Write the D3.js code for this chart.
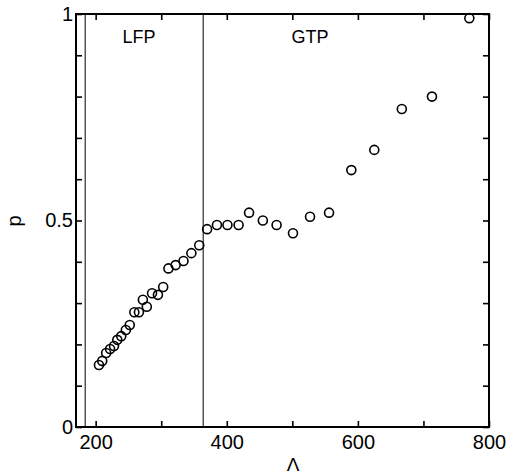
<!DOCTYPE html>
<html>
<head>
<meta charset="utf-8">
<script src="https://cdn.jsdelivr.net/npm/d3@7"></script>
<style>
  body { margin: 0; background: #fff; }
  svg { display: block; font-family: "Liberation Sans", Arial, sans-serif; }
</style>
</head>
<body>
<svg id="chart" width="508" height="471"></svg>
<script>
// lambda values and the fraction p
var lambda = [205, 210, 216, 222, 228, 233, 239, 246, 252, 259, 266, 272, 278, 286, 295, 303,
              311, 322, 334, 346, 358,
              370, 385, 401, 418, 434, 455, 476, 501, 527, 556,
              590, 625, 667, 713, 770];
var pVals = [0.150, 0.160, 0.179, 0.189, 0.196, 0.211, 0.220, 0.235, 0.247, 0.278, 0.278, 0.308, 0.291, 0.324, 0.320, 0.339,
             0.384, 0.392, 0.402, 0.421, 0.440,
             0.479, 0.489, 0.489, 0.489, 0.519, 0.500, 0.489, 0.469, 0.509, 0.519,
             0.622, 0.671, 0.770, 0.800, 0.990];
var xTicks = [200, 300, 400, 500, 600, 700, 800];
var yTicks = [0, 0.1, 0.2, 0.3, 0.4, 0.5, 0.6, 0.7, 0.8, 0.9, 1];
var boundaries = [184, 364]; // vertical separators
var regions = [{name: "LFP", at: 266}, {name: "GTP", at: 527}];

var svg = d3.select("#chart");
var plotL = 76, plotR = 489, plotT = 14, plotB = 427;

var x = d3.scaleLinear().domain([170, 800]).range([plotL, plotR]);
var y = d3.scaleLinear().domain([0, 1]).range([plotB, plotT]);

function styleAxis(g) {
    g.attr("font-family", null).attr("font-size", null);
    g.select(".domain").remove();
    g.selectAll("line").attr("stroke", "#000").attr("stroke-width", 1.6);
    g.selectAll("text").attr("fill", "#000").style("font-size", "20px");
}

// bottom / top
svg.append("g").attr("transform", "translate(0," + plotB + ")")
    .call(d3.axisBottom(x).tickValues(xTicks).tickSize(-6).tickPadding(8)
        .tickFormat(function (d) { return d % 200 === 0 ? d : ""; }))
    .call(styleAxis);
svg.append("g").attr("transform", "translate(0," + plotT + ")")
    .call(d3.axisTop(x).tickValues(xTicks).tickSize(-6).tickFormat(""))
    .call(styleAxis);

// left / right
svg.append("g").attr("transform", "translate(" + plotL + ",0)")
    .call(d3.axisLeft(y).tickValues(yTicks).tickSize(-6).tickPadding(3)
        .tickFormat(function (d) { return (d === 0 || d === 0.5 || d === 1) ? d : ""; }))
    .call(styleAxis);
svg.append("g").attr("transform", "translate(" + plotR + ",0)")
    .call(d3.axisRight(y).tickValues(yTicks).tickSize(-6).tickFormat(""))
    .call(styleAxis);

// frame
svg.append("rect")
    .attr("x", plotL).attr("y", plotT)
    .attr("width", plotR - plotL).attr("height", plotB - plotT)
    .attr("fill", "none").attr("stroke", "#000").attr("stroke-width", 2);

// separators
svg.selectAll(".sep").data(boundaries).enter().append("line")
    .attr("class", "sep")
    .attr("x1", function (d) { return x(d); }).attr("x2", function (d) { return x(d); })
    .attr("y1", plotT).attr("y2", plotB)
    .attr("stroke", "#000").attr("stroke-width", 1);

// region names
svg.selectAll(".reg").data(regions).enter().append("text")
    .attr("class", "reg")
    .attr("x", function (d) { return x(d.at); })
    .attr("y", y(0.93))
    .attr("text-anchor", "middle")
    .style("font-size", "18px")
    .text(function (d) { return d.name; });

// points
svg.selectAll(".pt").data(lambda).enter().append("circle")
    .attr("class", "pt")
    .attr("cx", function (d) { return x(d); })
    .attr("cy", function (d, i) { return y(pVals[i]); })
    .attr("r", 4.5)
    .attr("fill", "none")
    .attr("stroke", "#000")
    .attr("stroke-width", 1.6);

// axis titles
svg.append("text")
    .attr("x", 293).attr("y", 471)
    .attr("text-anchor", "middle")
    .style("font-size", "19px")
    .text("Λ");
svg.append("text")
    .attr("transform", "translate(21,221) rotate(-90)")
    .attr("text-anchor", "middle")
    .style("font-size", "20px")
    .text("p");
</script>
</body>
</html>
